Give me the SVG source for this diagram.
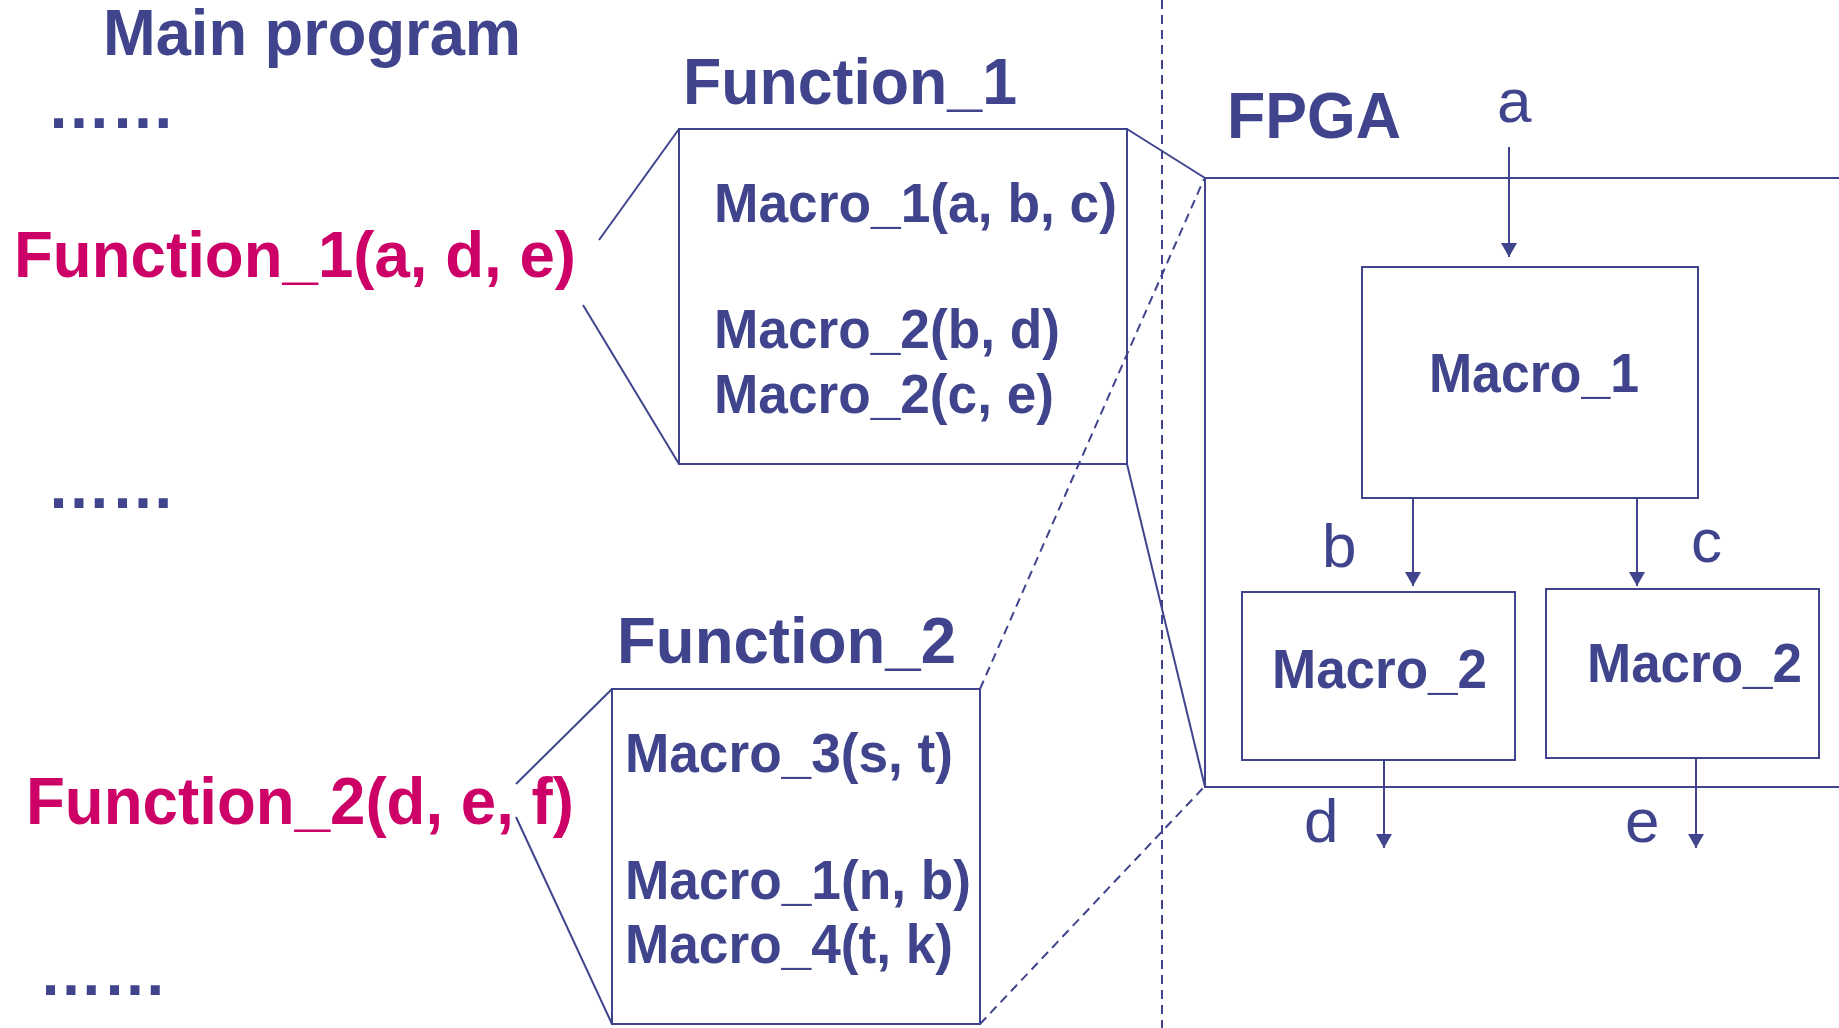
<svg xmlns="http://www.w3.org/2000/svg" width="1839" height="1028" viewBox="0 0 1839 1028">
  <style>
    .t { font-family: "Liberation Sans", Arial, sans-serif; font-weight: bold; fill: #3f448c; }
    .m { font-family: "Liberation Sans", Arial, sans-serif; font-weight: bold; fill: #cc0066; }
    .lbl { font-family: "Liberation Sans", Arial, sans-serif; font-weight: normal; fill: #3f448c; font-size: 62px; }
    .box { fill: none; stroke: #3f448c; stroke-width: 2; }
    .ln { fill: none; stroke: #3f448c; stroke-width: 2; }
    .dash { fill: none; stroke: #3f448c; stroke-width: 2; stroke-dasharray: 9 6; }
    .arr { fill: none; stroke: #3f448c; stroke-width: 2; marker-end: url(#head); }
  </style>
  <defs>
    <marker id="head" viewBox="0 0 14 16" refX="14" refY="8" markerWidth="14" markerHeight="16" markerUnits="userSpaceOnUse" orient="auto">
      <path d="M0,0 L14,8 L0,16 Z" fill="#3f448c"/>
    </marker>
  </defs>
  <rect width="1839" height="1028" fill="#ffffff"/>

  <!-- main program listing -->
  <g id="main-program">
    <text class="t" x="103" y="55" font-size="64" textLength="418" lengthAdjust="spacingAndGlyphs">Main program</text>
    <text class="t" x="47" y="128" font-size="64">……</text>
    <text class="m" x="14" y="277" font-size="64" textLength="562" lengthAdjust="spacingAndGlyphs">Function_1(a, d, e)</text>
    <text class="t" x="47" y="508" font-size="64">……</text>
    <text class="m" x="26" y="824" font-size="66" textLength="548" lengthAdjust="spacingAndGlyphs">Function_2(d, e, f)</text>
    <text class="t" x="39" y="995" font-size="64">……</text>
  </g>

  <!-- Function_1 body -->
  <g id="function-1">
    <text class="t" x="683" y="104" font-size="64" textLength="334" lengthAdjust="spacingAndGlyphs">Function_1</text>
    <rect class="box" x="679" y="129" width="448" height="335"/>
    <text class="t" x="714" y="222" font-size="55" textLength="403" lengthAdjust="spacingAndGlyphs">Macro_1(a, b, c)</text>
    <text class="t" x="714" y="348" font-size="55" textLength="346" lengthAdjust="spacingAndGlyphs">Macro_2(b, d)</text>
    <text class="t" x="714" y="413" font-size="55" textLength="340" lengthAdjust="spacingAndGlyphs">Macro_2(c, e)</text>
  </g>

  <!-- Function_2 body -->
  <g id="function-2">
    <text class="t" x="617" y="663" font-size="64" textLength="339" lengthAdjust="spacingAndGlyphs">Function_2</text>
    <rect class="box" x="612" y="689" width="368" height="335"/>
    <text class="t" x="625" y="772" font-size="55" textLength="328" lengthAdjust="spacingAndGlyphs">Macro_3(s, t)</text>
    <text class="t" x="625" y="899" font-size="55" textLength="346" lengthAdjust="spacingAndGlyphs">Macro_1(n, b)</text>
    <text class="t" x="625" y="963" font-size="55" textLength="328" lengthAdjust="spacingAndGlyphs">Macro_4(t, k)</text>
  </g>

  <!-- FPGA region, open towards the right edge -->
  <g id="fpga">
    <path class="box" d="M1839,178 H1205 V787 H1839"/>
    <text class="t" x="1227" y="138" font-size="64" textLength="174" lengthAdjust="spacingAndGlyphs">FPGA</text>
  </g>

  <g id="macro-1">
    <rect class="box" x="1362" y="267" width="336" height="231"/>
    <text class="t" x="1429" y="392" font-size="55" textLength="210" lengthAdjust="spacingAndGlyphs">Macro_1</text>
  </g>

  <g id="macro-2-left">
    <rect class="box" x="1242" y="592" width="273" height="168"/>
    <text class="t" x="1272" y="688" font-size="55" textLength="215" lengthAdjust="spacingAndGlyphs">Macro_2</text>
  </g>

  <g id="macro-2-right">
    <rect class="box" x="1546" y="589" width="273" height="169"/>
    <text class="t" x="1587" y="682" font-size="55" textLength="215" lengthAdjust="spacingAndGlyphs">Macro_2</text>
  </g>

  <!-- signal labels -->
  <g id="signals">
    <text class="lbl" x="1497" y="122">a</text>
    <text class="lbl" x="1322" y="567">b</text>
    <text class="lbl" x="1691" y="562">c</text>
    <text class="lbl" x="1304" y="842">d</text>
    <text class="lbl" x="1625" y="842">e</text>
  </g>

  <!-- connectors -->
  <g id="connectors">
    <!-- call site to function body -->
    <line class="ln" x1="599" y1="240" x2="679" y2="129"/>
    <line class="ln" x1="583" y1="305" x2="679" y2="464"/>
    <line class="ln" x1="516" y1="784" x2="612" y2="689"/>
    <line class="ln" x1="516" y1="817" x2="612" y2="1024"/>
    <!-- Function_1 mapped onto the FPGA -->
    <line class="ln" x1="1127" y1="129" x2="1205" y2="178"/>
    <line class="ln" x1="1127" y1="464" x2="1205" y2="787"/>
    <!-- Function_2 mapped onto the FPGA -->
    <line class="dash" x1="980" y1="689" x2="1204" y2="179"/>
    <line class="dash" x1="980" y1="1024" x2="1205" y2="786"/>
    <!-- software / hardware divider -->
    <line class="dash" x1="1162" y1="0" x2="1162" y2="1028"/>
    <!-- data flow arrows -->
    <line class="arr" x1="1509" y1="147" x2="1509" y2="257"/>
    <line class="arr" x1="1413" y1="498" x2="1413" y2="586"/>
    <line class="arr" x1="1637" y1="498" x2="1637" y2="586"/>
    <line class="arr" x1="1384" y1="760" x2="1384" y2="848"/>
    <line class="arr" x1="1696" y1="758" x2="1696" y2="848"/>
  </g>
</svg>
